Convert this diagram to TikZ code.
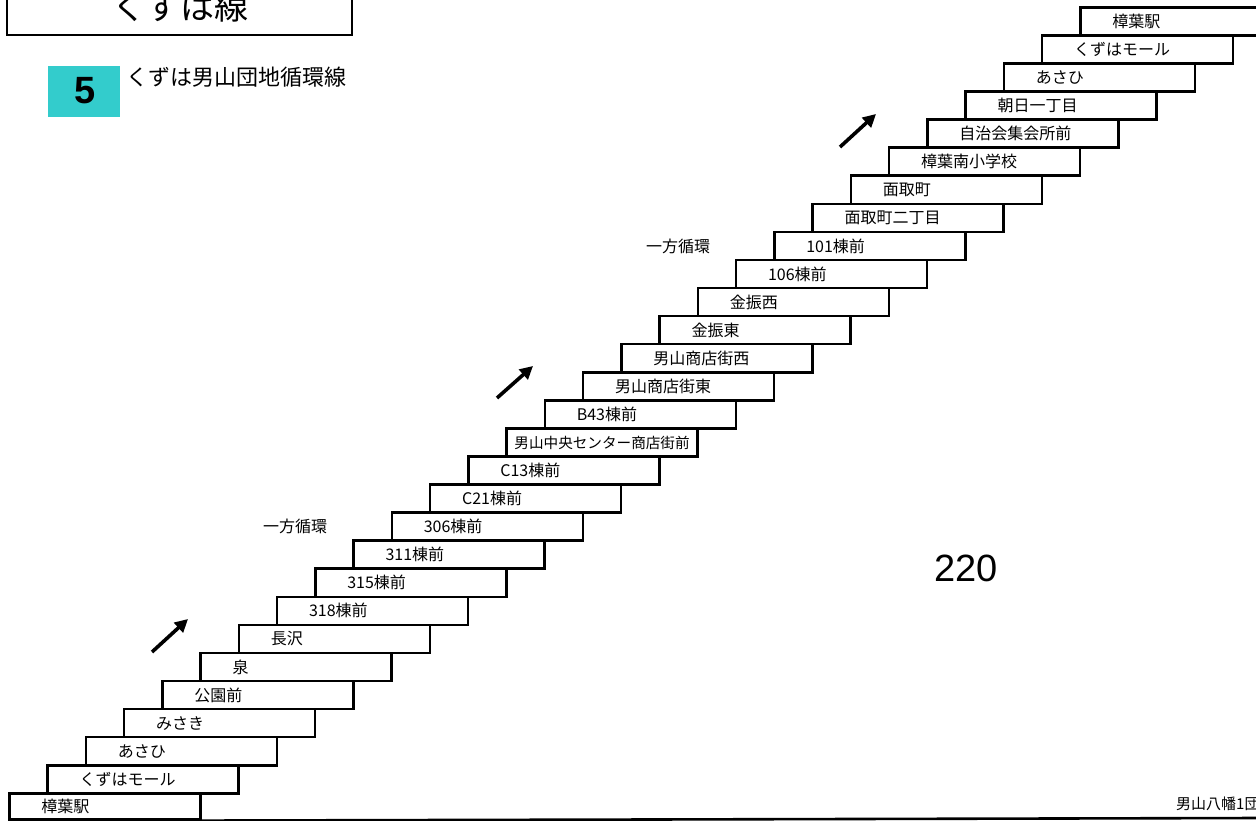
\documentclass[tikz,border=0pt]{standalone}
\usepackage{fontspec}
\setmainfont{Noto Sans CJK JP}
\newfontfamily\arialfont{Liberation Sans}
\usetikzlibrary{arrows.meta}
\definecolor{tealbox}{HTML}{33CCCC}
\tikzset{
  stepbox/.style={draw, line width=2.6pt, anchor=north west, minimum width=191pt,
    minimum height=28.07pt, inner xsep=0pt, inner ysep=0pt, text width=127pt,
    align=left, font=\fontsize{16}{18}\selectfont},
  longbox/.style={draw, line width=2.6pt, anchor=north west, minimum width=191pt,
    minimum height=28.07pt, inner sep=0pt, font=\fontsize{14.6}{16}\selectfont},
  dirarrow/.style={line width=3.6pt, -{Triangle[length=13pt,width=13pt]}},
  note/.style={font=\fontsize{16}{18}\selectfont, inner sep=0pt},
}
\begin{document}
\begin{tikzpicture}[x=1pt,y=-1pt]
\useasboundingbox (0,0) rectangle (1256,821);
\clip (0,0) rectangle (1256,821);
\fill[white] (0,0) rectangle (1256,821);

% title box
\draw[line width=2.6pt] (7,-10) rectangle (352,35);
\node[anchor=base, inner sep=0pt, font=\fontsize{34}{36}\selectfont] (title) at (180,20) {くずは線};

% route badge
\node[fill=tealbox, minimum width=72pt, minimum height=51pt, inner sep=0pt, anchor=north west] (badge) at (48,66) {};
\node[font=\arialfont\bfseries\fontsize{38}{40}\selectfont, inner sep=0pt] (num) at (85,91) {5};
\node[anchor=west, inner sep=0pt, font=\fontsize{22}{24}\selectfont] (route) at (126,77) {くずは男山団地循環線};

% bottom row
\node[stepbox, minimum height=26pt] (s0) at (8,792) {樟葉駅};
\draw[line width=2.6pt] (s0.south east) -- (1260,818);
\node[anchor=west, inner sep=0pt, font=\fontsize{15}{17}\selectfont] (dest) at (1176,804) {男山八幡1団};

% steps
\foreach \k/\name in {1/くずはモール, 2/あさひ, 3/みさき, 4/公園前, 5/泉, 6/長沢,
  7/318棟前, 8/315棟前, 9/311棟前, 10/306棟前, 11/C21棟前, 12/C13棟前,
  14/B43棟前, 15/男山商店街東, 16/男山商店街西, 17/金振東, 18/金振西,
  19/106棟前, 20/101棟前, 21/面取町二丁目, 22/面取町, 23/樟葉南小学校,
  24/自治会集会所前, 25/朝日一丁目, 26/あさひ, 27/くずはモール, 28/樟葉駅}{
  \node[stepbox] (s\k) at ({8+38.25*\k},{792-28.07*\k}) {\name};
}
\node[longbox] (s13) at ({8+38.25*13},{792-28.07*13}) {男山中央センター商店街前};

% one-way labels
\node[note] (ow1) at (295,526) {一方循環};
\node[note] (ow2) at (678,246) {一方循環};

% arrows
\coordinate (a1s) at (152,652); \coordinate (a1e) at (188,619);
\coordinate (a2s) at (497,398); \coordinate (a2e) at (533,366);
\coordinate (a3s) at (840,147); \coordinate (a3e) at (876,114);
\draw[dirarrow] (a1s) -- (a1e);
\draw[dirarrow] (a2s) -- (a2e);
\draw[dirarrow] (a3s) -- (a3e);

% number
\node[font=\arialfont\fontsize{38}{40}\selectfont, inner sep=0pt] (n220) at (966,568) {220};
\end{tikzpicture}
\end{document}
